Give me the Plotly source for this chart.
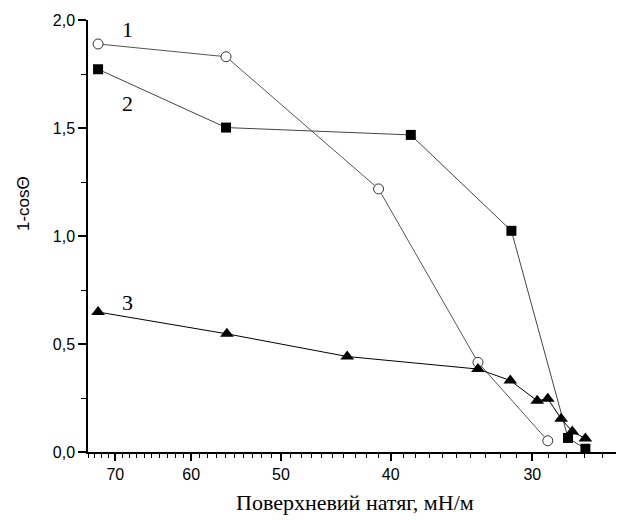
import math
import plotly.graph_objects as go

# Data
s1_x = [72.5, 55.9, 41.0, 33.5, 29.07]
s1_y = [1.889, 1.830, 1.218, 0.415, 0.052]

s2_x = [72.5, 55.9, 38.4, 31.3, 27.9, 26.93]
s2_y = [1.772, 1.502, 1.468, 1.024, 0.065, 0.015]

s3_x = [72.5, 55.8, 43.7, 33.5, 31.37, 29.7, 29.07, 28.29, 27.66, 26.93]
s3_y = [0.648, 0.547, 0.442, 0.384, 0.331, 0.237, 0.247, 0.154, 0.095, 0.062]

x_ticks = [70, 60, 50, 40, 30]
x_minor = list(range(25, 75))
y_ticks = [0.0, 0.5, 1.0, 1.5, 2.0]
y_minor = [0.25, 0.75, 1.25, 1.75]

labels = ["1", "2", "3"]
label_x = [68.3, 68.3, 68.3]
label_y = [1.955, 1.615, 0.69]

x_title = "Поверхневий натяг, мН/м"
y_title = "1-cosΘ"

fig = go.Figure()
fig.add_trace(go.Scatter(
    x=s1_x, y=s1_y, mode="lines+markers",
    line=dict(color="#555555", width=1),
    marker=dict(symbol="circle", size=10, color="white", line=dict(color="#333333", width=1)),
    cliponaxis=False, showlegend=False))
fig.add_trace(go.Scatter(
    x=s2_x, y=s2_y, mode="lines+markers",
    line=dict(color="#444444", width=1),
    marker=dict(symbol="square", size=10, color="black", line=dict(width=0)),
    cliponaxis=False, showlegend=False))
fig.add_trace(go.Scatter(
    x=s3_x, y=s3_y, mode="lines+markers",
    line=dict(color="black", width=1),
    marker=dict(symbol="triangle-up", size=12, color="black", line=dict(width=0)),
    cliponaxis=False, showlegend=False))

for t, xv, yv in zip(labels, label_x, label_y):
    fig.add_annotation(x=math.log10(xv), y=yv, xref="x", yref="y", text=t,
                       showarrow=False,
                       font=dict(family="Liberation Serif", size=22, color="black"))

fig.add_annotation(x=0.5, y=-0.118, xref="paper", yref="paper", text=x_title,
                   showarrow=False, xanchor="center", yanchor="middle",
                   font=dict(family="Liberation Serif", size=22, color="black"))
fig.add_annotation(x=-0.122, y=0.576, xref="paper", yref="paper", text=y_title,
                   showarrow=False, textangle=-90, xanchor="center", yanchor="middle",
                   font=dict(family="Liberation Sans", size=17, color="black"))

# page body has an 8px margin, so the figure is offset by 8px
fig.update_layout(
    width=616, height=512,
    margin=dict(l=80, r=2, t=12, b=68, autoexpand=False),
    paper_bgcolor="white", plot_bgcolor="white",
    separators=", ",
    font=dict(family="Liberation Sans", size=16, color="black"),
)
fig.update_xaxes(
    type="log", range=[math.log10(74), math.log10(25)],
    tickmode="array", tickvals=x_ticks, ticktext=[str(v) for v in x_ticks],
    ticks="outside", ticklen=7, tickwidth=1.5, tickcolor="black",
    minor=dict(tickmode="array", tickvals=x_minor, ticks="outside", ticklen=4,
               tickwidth=1.2, tickcolor="black", showgrid=False),
    showline=True, linecolor="black", linewidth=1.5, showgrid=False, zeroline=False,
    tickfont=dict(family="Liberation Sans", size=16),
    automargin=False,
)
fig.update_yaxes(
    range=[0, 2.0],
    tickmode="array", tickvals=y_ticks, tickformat=".1f",
    ticks="outside", ticklen=8, tickwidth=1.5, tickcolor="black",
    minor=dict(tickmode="array", tickvals=y_minor, ticks="outside", ticklen=5,
               tickwidth=1.2, tickcolor="black", showgrid=False),
    showline=True, linecolor="black", linewidth=1.5, showgrid=False, zeroline=False,
    tickfont=dict(family="Liberation Sans", size=16),
    automargin=False,
)

fig.write_html("out.html")
